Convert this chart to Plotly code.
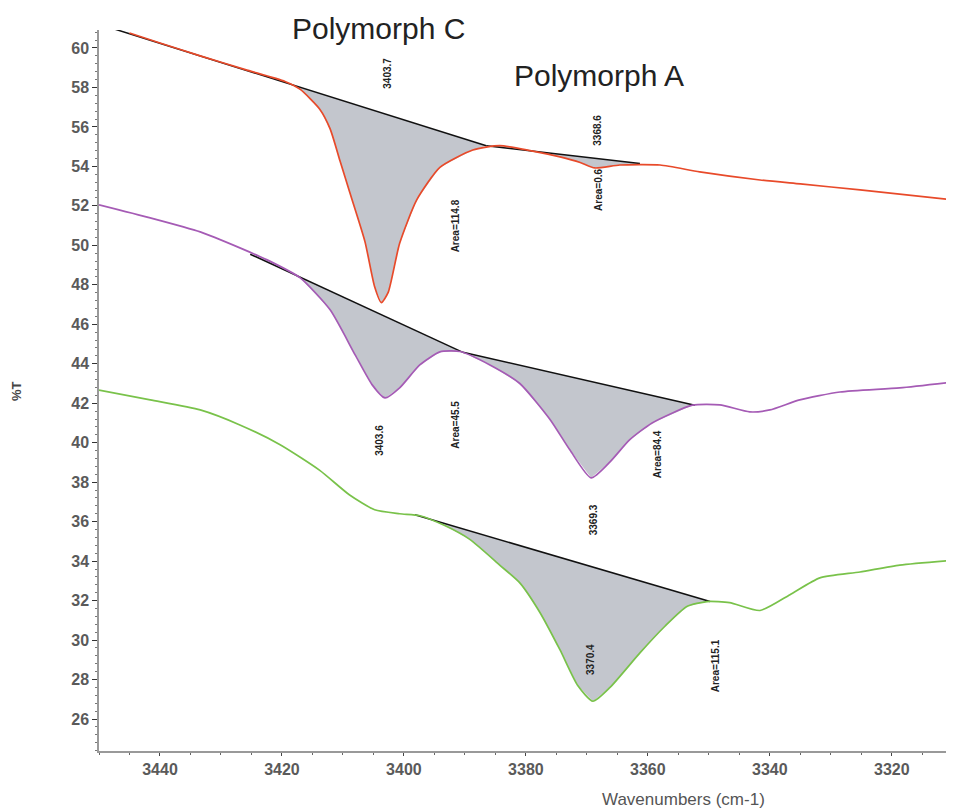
import plotly.graph_objects as go

# ---- data ----
red_x = [3445, 3440, 3433.4, 3426, 3419.5, 3417, 3413.8, 3412.1, 3410.5, 3408.9, 3406.4, 3404.8, 3403.7,
         3402.6, 3400.7, 3397.9, 3394.1, 3388.7, 3384.3, 3379.3, 3374.4, 3371.1, 3368.7, 3364.6, 3358,
         3351.5, 3341.6, 3335, 3325.2, 3309.8]
red_y = [60.76, 60.25, 59.6, 58.9, 58.3, 57.9, 56.9, 55.9, 54.3, 52.7, 50.2, 47.9, 47.1,
         47.6, 50.1, 52.3, 53.95, 54.83, 55.05, 54.8, 54.48, 54.2, 53.92, 54.07, 54.07,
         53.72, 53.31, 53.11, 52.81, 52.3]

purple_x = [3450, 3441.6, 3433.4, 3426.9, 3422, 3417, 3412.1, 3408, 3405.2, 3403.1, 3400.7, 3397.4,
            3394.1, 3390.8, 3385.9, 3381, 3376.1, 3372.8, 3369.3, 3366.2, 3363, 3359.3, 3352.7,
            3348.2, 3343.3, 3340, 3335.1, 3328.5, 3318.7, 3309.8]
purple_y = [52.05, 51.39, 50.68, 49.87, 49.2, 48.35, 46.73, 44.45, 42.93, 42.27, 42.78, 43.94,
            44.6, 44.62, 43.94, 43.0, 41.2, 39.64, 38.22, 39.03, 40.14, 41.0, 41.9,
            41.92, 41.56, 41.66, 42.17, 42.57, 42.78, 43.08]

green_x = [3450, 3441.6, 3433.4, 3426.9, 3420.3, 3413.8, 3408.9, 3404.8, 3400.7, 3397.4, 3393.3,
           3389.2, 3384.3, 3381, 3377.7, 3374.4, 3371.5, 3369.0, 3366.2, 3361.3, 3357.2, 3353.6,
           3350.3, 3346.6, 3341.6, 3336.7, 3331.8, 3325.2, 3318.7, 3309.8]
green_y = [42.67, 42.17, 41.66, 40.9, 39.9, 38.6, 37.35, 36.6, 36.4, 36.3, 35.8,
           35.1, 33.8, 32.9, 31.4, 29.5, 27.7, 26.9, 27.6, 29.35, 30.7, 31.7,
           31.95, 31.9, 31.5, 32.3, 33.15, 33.45, 33.8, 34.05]

# baselines (tangent lines) per integrated region: [x_start, x_end], [y_start, y_end]
base_red1_x, base_red1_y = [3447.9, 3386.5], [61.0, 55.05]
base_red2_x, base_red2_y = [3386.5, 3361.3], [55.05, 54.15]
base_pur1_x, base_pur1_y = [3425.2, 3390.5], [49.55, 44.6]
base_pur2_x, base_pur2_y = [3390.5, 3352.3], [44.6, 41.9]
base_grn_x, base_grn_y = [3398.2, 3349.8], [36.35, 31.95]

# peak / area labels
label_text = ["3403.7", "Area=114.8", "3368.6", "Area=0.6",
              "3403.6", "Area=45.5", "3369.3", "Area=84.4",
              "3370.4", "Area=115.1"]
label_x = [3402.6, 3391.5, 3368.2, 3368.2, 3403.9, 3391.5, 3368.9, 3358.4, 3369.3, 3348.9]
label_y = [58.7, 51.0, 55.85, 52.8, 40.1, 40.9, 36.1, 39.4, 29.0, 28.7]

RED, PURPLE, GREEN = "#e84a2a", "#a55bb5", "#79c24a"
FILL = "#c3c6cd"

fig = go.Figure()


def add_fill(cx, cy, bx, by):
    lo, hi = min(bx), max(bx)
    seg = sorted([(x, y) for x, y in zip(cx, cy) if lo < x < hi], key=lambda p: p[0])
    if bx[0] > bx[1]:
        px, py = [bx[0], bx[1]], [by[0], by[1]]
    else:
        px, py = [bx[1], bx[0]], [by[1], by[0]]
    px += [p[0] for p in seg]
    py += [p[1] for p in seg]
    fig.add_trace(go.Scatter(x=px, y=py, fill="toself", fillcolor=FILL, mode="lines",
                             line=dict(width=0), hoverinfo="skip", showlegend=False))


add_fill(red_x, red_y, base_red1_x, base_red1_y)
add_fill(red_x, red_y, base_red2_x, base_red2_y)
add_fill(purple_x, purple_y, base_pur1_x, base_pur1_y)
add_fill(purple_x, purple_y, base_pur2_x, base_pur2_y)
add_fill(green_x, green_y, base_grn_x, base_grn_y)

for bx, by in [(base_red1_x, base_red1_y), (base_red2_x, base_red2_y),
               (base_pur1_x, base_pur1_y), (base_pur2_x, base_pur2_y),
               (base_grn_x, base_grn_y)]:
    fig.add_trace(go.Scatter(x=bx, y=by, mode="lines", line=dict(color="#111111", width=1.5),
                             showlegend=False, hoverinfo="skip"))

for cx, cy, col in [(red_x, red_y, RED), (purple_x, purple_y, PURPLE), (green_x, green_y, GREEN)]:
    fig.add_trace(go.Scatter(x=cx, y=cy, mode="lines",
                             line=dict(color=col, width=1.7, shape="spline", smoothing=0.6),
                             showlegend=False))

for t, x, y in zip(label_text, label_x, label_y):
    fig.add_annotation(x=x, y=y, text=t, textangle=-90, showarrow=False,
                       font=dict(family="Liberation Sans, Arial", size=10, color="#222222", weight="bold"))

# plot area in page pixels: x 99..954, y 30..751 (page has 8px body margin)
def px2paper(px, py):
    return (px - 99) / 855.0, (751 - py) / 721.0


for text, (px, py), size, col, ang, w in [
        ("Polymorph C", (378, 28), 30, "#222222", 0, "normal"),
        ("Polymorph A", (599, 76), 30, "#222222", 0, "normal"),
        ("Wavenumbers (cm-1)", (683, 799), 17, "#555555", 0, "normal"),
        ("%T", (16, 391), 13, "#444444", -90, "bold")]:
    ax, ay = px2paper(px, py)
    fig.add_annotation(x=ax, y=ay, xref="paper", yref="paper", text=text, showarrow=False,
                       xanchor="center", yanchor="middle", textangle=ang,
                       font=dict(family="Liberation Sans, Arial", size=size, color=col, weight=w))

fig.update_layout(
    width=946, height=802,
    margin=dict(l=91, r=0, t=22, b=59),
    paper_bgcolor="white", plot_bgcolor="white",
    font=dict(family="Liberation Sans, Arial"),
    xaxis=dict(range=[3450, 3309.8], showgrid=False, zeroline=False, showline=True,
               linecolor="#999999", linewidth=1.5, tickmode="linear", tick0=3440, dtick=20,
               ticks="outside", ticklen=3, tickcolor="#444444",
               minor=dict(dtick=5, ticks="outside", ticklen=2, tickcolor="#666666"),
               tickfont=dict(size=16, color="#5a5a5a", weight="bold")),
    yaxis=dict(range=[24.38, 60.91], showgrid=False, zeroline=False, showline=True,
               linecolor="#999999", linewidth=1.5, tickmode="linear", tick0=26, dtick=2,
               ticks="outside", ticklen=5, tickcolor="#333333",
               minor=dict(dtick=0.4, ticks="outside", ticklen=2, tickcolor="#777777"),
               tickfont=dict(size=16, color="#5a5a5a", weight="bold")),
)

fig.write_html("out.html")
